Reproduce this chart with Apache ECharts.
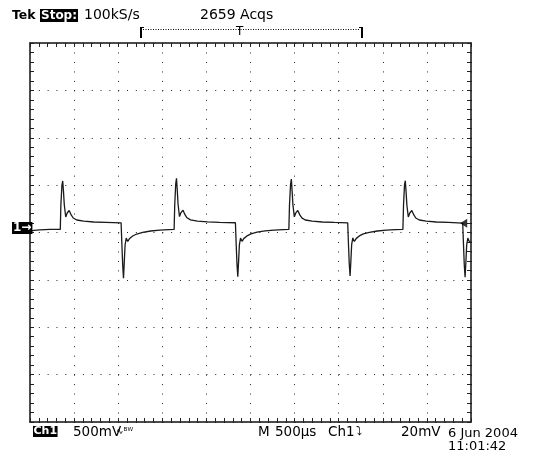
<!DOCTYPE html>
<html>
<head>
<meta charset="utf-8">
<script src="https://cdn.jsdelivr.net/npm/echarts@6/dist/echarts.min.js"></script>
<style>
html,body{margin:0;padding:0;background:#fff;}
#chart{width:558px;height:461px;}
</style>
</head>
<body>
<div id="chart"></div>
<script>
// Time axis in microseconds (10 div x 500 us), voltage in mV (8 div x 500 mV)
const xTicks = [0, 500, 1000, 1500, 2000, 2500, 3000, 3500, 4000, 4500, 5000];
const yTicks = [-2000, -1500, -1000, -500, 0, 500, 1000, 1500, 2000];

const timeUs = [
  0, 45, 113, 227,
  343.5, 350, 362, 371, 380, 389, 405, 422, 444, 467, 490, 530, 609, 722, 858, 1033,
  1042, 1051, 1060, 1069, 1078, 1091, 1108, 1130, 1164, 1210, 1278, 1369, 1471, 1573,
  1634, 1641, 1652, 1661, 1670, 1679, 1695, 1712, 1735, 1757, 1780, 1820, 1899, 2013, 2149, 2329,
  2338, 2347, 2356, 2365, 2374, 2387, 2404, 2426, 2460, 2506, 2574, 2665, 2767, 2869,
  2935, 2942, 2954, 2963, 2972, 2981, 2997, 3014, 3036, 3059, 3082, 3121, 3201, 3314, 3450, 3602,
  3611, 3620, 3629, 3638, 3647, 3660, 3677, 3700, 3734, 3779, 3847, 3938, 4040, 4142,
  4228, 4235, 4246, 4255, 4264, 4273, 4289, 4306, 4329, 4352, 4374, 4414, 4493, 4607, 4743, 4906,
  4915, 4924, 4933, 4942, 4951, 4964, 4981, 5000
];
const voltMv = [
  14, 23, 28, 32,
  33, 290, 500, 544, 427, 290, 164, 206, 232, 185, 153, 132, 119, 111, 107, 102,
  -132, -343, -483, -311, -132, -58, -95, -63, -37, -16, 2, 16, 25, 31,
  33, 290, 510, 572, 440, 295, 168, 210, 235, 188, 155, 133, 120, 112, 107, 103,
  -132, -340, -467, -305, -130, -58, -93, -62, -36, -15, 3, 17, 26, 31,
  33, 290, 505, 565, 435, 292, 165, 208, 233, 186, 154, 132, 119, 111, 106, 102,
  -130, -335, -459, -300, -128, -57, -94, -62, -36, -15, 2, 16, 25, 31,
  33, 290, 500, 547, 430, 290, 164, 206, 232, 185, 153, 132, 119, 111, 106, 100,
  -132, -345, -473, -311, -132, -58, -95, -100
];
// trigger level marker (right edge)
const triggerMarker = [[4917, 97]];

const FONT = '"DejaVu Sans", sans-serif';
const chart = echarts.init(document.getElementById('chart'), null, {renderer: 'canvas'});

const gx = 30, gy = 43, gw = 441, gh = 379;
const divX = gw / 10, divY = gh / 8;

function xAxisCfg(pos, showSplit) {
  return {
    type: 'value', position: pos, min: xTicks[0], max: xTicks[xTicks.length - 1],
    interval: xTicks[1] - xTicks[0],
    axisLabel: {show: false},
    axisLine: {show: true, onZero: false, lineStyle: {color: '#111', width: 1.5}},
    axisTick: {show: true, inside: true, length: 4, lineStyle: {color: '#222'}},
    minorTick: {show: true, splitNumber: 5, length: 4, lineStyle: {color: '#222'}},
    splitLine: {show: showSplit, lineStyle: {color: '#222', width: 1, type: [1, divY / 5 - 1]}}
  };
}
function yAxisCfg(pos, showSplit) {
  return {
    type: 'value', position: pos, min: yTicks[0], max: yTicks[yTicks.length - 1],
    interval: yTicks[1] - yTicks[0],
    axisLabel: {show: false},
    axisLine: {show: true, onZero: false, lineStyle: {color: '#111', width: 1.5}},
    axisTick: {show: true, inside: true, length: 4, lineStyle: {color: '#222'}},
    minorTick: {show: true, splitNumber: 5, length: 4, lineStyle: {color: '#222'}},
    splitLine: {show: showSplit, lineStyle: {color: '#222', width: 1, type: [1, divX / 5 - 1]}}
  };
}

function txt(text, x, y, size, opts) {
  opts = opts || {};
  return {
    type: 'text', left: x, top: y, z: 100,
    style: Object.assign({
      text: text, fontSize: size, fontFamily: FONT, fill: '#000',
      fontWeight: opts.bold ? 'bold' : 'normal'
    }, opts.style || {})
  };
}
function boxTxt(text, x, y, size, pad) {
  return {
    type: 'text', left: x, top: y, z: 100,
    style: {
      text: text, fontSize: size, fontFamily: FONT, fill: '#fff', fontWeight: 'bold',
      backgroundColor: '#000', padding: pad, lineHeight: size
    }
  };
}

const option = {
  animation: false,
  backgroundColor: '#fff',
  grid: {left: gx, top: gy, width: gw, height: gh, containLabel: false},
  xAxis: [xAxisCfg('bottom', true), xAxisCfg('top', false)],
  yAxis: [yAxisCfg('left', true), yAxisCfg('right', false)],
  series: [
    {
      type: 'line', xAxisIndex: 0, yAxisIndex: 0,
      data: timeUs.map((t, i) => [t, voltMv[i]]),
      showSymbol: false, symbol: 'none', smooth: false,
      lineStyle: {color: '#1a1a1a', width: 1.3},
      clip: true, z: 5
    },
    {
      type: 'scatter', xAxisIndex: 0, yAxisIndex: 0,
      data: triggerMarker, symbol: 'triangle', symbolRotate: 90, symbolSize: [9, 7],
      itemStyle: {color: '#000'}, z: 6, silent: true
    }
  ],
  graphic: [
    txt('Tek', 12, 9, 12.5, {bold: true}),
    boxTxt('Stop:', 40, 9, 12, [1, 1, 0, 1]),
    txt('100kS/s', 84, 8.3, 14),
    txt('2659 Acqs', 200, 8.3, 14),
    // record view bracket
    {type: 'line', z: 100, shape: {x1: 143, y1: 29.5, x2: 360, y2: 29.5},
     style: {stroke: '#000', lineWidth: 1, lineDash: [1, 1.5]}},
    {type: 'rect', z: 100, shape: {x: 140, y: 27, width: 2, height: 11}, style: {fill: '#000'}},
    {type: 'rect', z: 100, shape: {x: 140, y: 27, width: 4, height: 1}, style: {fill: '#000'}},
    {type: 'rect', z: 100, shape: {x: 361, y: 27, width: 2, height: 11}, style: {fill: '#000'}},
    {type: 'rect', z: 100, shape: {x: 359, y: 27, width: 4, height: 1}, style: {fill: '#000'}},
    txt('T', 236, 25.5, 12),
    // ground marker
    boxTxt('1\u2192', 12, 222, 12, [0, 1, 0, 1]),
    // bottom line
    boxTxt('Ch1', 33, 426, 11, [0, 0.5, 0, 0.5]),
    txt('500mV', 73, 425.4, 13.5),
    txt('\u223F\u1D2E\u1D42', 116, 427, 9),
    txt('M', 258, 425.4, 13.5),
    txt('500\u00B5s', 275, 425.4, 13.5),
    txt('Ch1', 328, 425.4, 13.5),
    txt('\u2935', 356, 425.4, 12),
    txt('20mV', 401, 425.4, 13.5),
    txt('6 Jun 2004', 448, 427, 13),
    txt('11:01:42', 448, 440, 13)
  ]
};
chart.setOption(option);
</script>
</body>
</html>
